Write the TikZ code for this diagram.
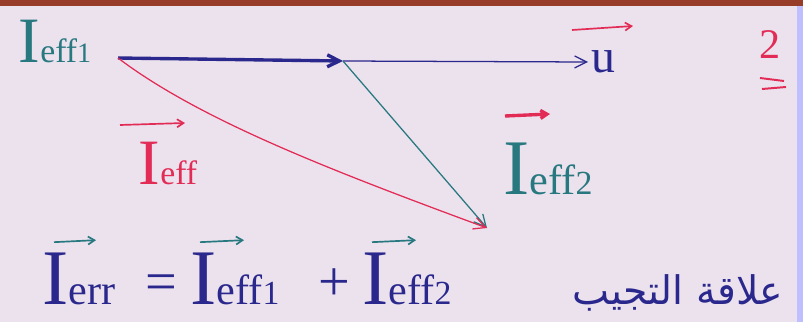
\documentclass[tikz,border=0pt]{standalone}
\usepackage{fontspec}
\usepackage{tikz}
\usetikzlibrary{arrows.meta, positioning, calc}
\setmainfont{Liberation Serif}
\newfontfamily\arabicfont[Script=Arabic]{DejaVu Sans}
\TeXXeTstate=1
\definecolor{paper}{RGB}{236,226,238}
\definecolor{ink}{RGB}{42,40,140}
\definecolor{teal}{RGB}{40,120,128}
\definecolor{pen}{RGB}{226,44,86}
\definecolor{edge}{RGB}{150,60,40}
\newcommand{\bigI}[2]{{\fontsize{46}{50}\selectfont I}{\fontsize{24}{26}\selectfont #1}{\fontsize{20}{22}\selectfont #2}}
\newcommand{\hugeI}[2]{{\fontsize{56}{60}\selectfont I}{\fontsize{30}{32}\selectfont #1}{\fontsize{24}{26}\selectfont #2}}

\begin{document}
\begin{tikzpicture}[
    x=0.025cm, y=-0.025cm,
    vec/.style={-{Straight Barb[length=3mm, width=3mm]}, line width=0.9pt},
    lbl/.style={inner sep=0pt, anchor=base},
    eqpart/.style={inner sep=0pt, anchor=base west, ink},
    hat/.style={-{Straight Barb[length=1.6mm, width=2mm]}, line width=1.2pt},
]
% paper and frame
\fill[paper] (0,0) rectangle (803,322);
\fill[edge] (0,0) rectangle (803,6);
\fill[blue!25] (797,6) rectangle (803,322);
\useasboundingbox (0,0) rectangle (803,322);

% points of the triangle
\coordinate (o) at (118,58);
\coordinate (m) at (343,61);
\coordinate (uend) at (588,62);
\coordinate (tip) at (487,228);

% vectors
\draw[vec, ink, line width=2.4pt] (o) -- (m);
\draw[vec, ink] (m) -- (uend);
\draw[vec, teal] (m) -- (tip);
\draw[vec, pen] (o) .. controls (200,120) and (330,170) .. (tip);

% labels
\node[lbl, teal] (ieffone) at (55,62) {\bigI{eff}{1}};
\node[lbl, ink, font=\fontsize{34}{36}\selectfont, right=2pt of uend.east, anchor=west] (u) {u};
\draw[hat, pen] (572,30) -- (633,26);
\node[lbl, pen] (ieff) at (168,184) {\bigI{eff}{}};
\draw[hat, pen] (120,125) -- (185,123);
\node[lbl, teal] (iefftwo) at (548,194) {\hugeI{eff}{2}};
\draw[hat, pen, line width=2.4pt] (505,116) -- (550,114);
\node[lbl, pen, font=\fontsize{30}{32}\selectfont] (two) at (770,58) {2};
\draw[pen, line width=1.4pt] (760,78) -- (784,81) (762,89) -- (786,87);

% relation at the bottom
\node[eqpart] (eqleft) at (42,304) {\hugeI{err}{}};
\node[eqpart, font=\fontsize{40}{42}\selectfont] (eqsign) at (145,300) {=};
\node[eqpart] (eqmid) at (190,304) {\hugeI{eff}{1}};
\node[eqpart, font=\fontsize{40}{42}\selectfont] (eqplus) at (318,300) {+};
\node[eqpart] (eqright) at (362,304) {\hugeI{eff}{2}};
\draw[hat, teal] ($(eqleft.north west)+(12,-10)$) -- ++(42,-2);
\draw[hat, teal] ($(eqmid.north west)+(10,-10)$) -- ++(44,-2);
\draw[hat, teal] ($(eqright.north west)+(10,-10)$) -- ++(44,-2);
\node[lbl, ink, font=\arabicfont\fontsize{28}{32}\selectfont] (rel) at (678,304) {\beginR علاقة التجيب\endR};
\end{tikzpicture}
\end{document}
